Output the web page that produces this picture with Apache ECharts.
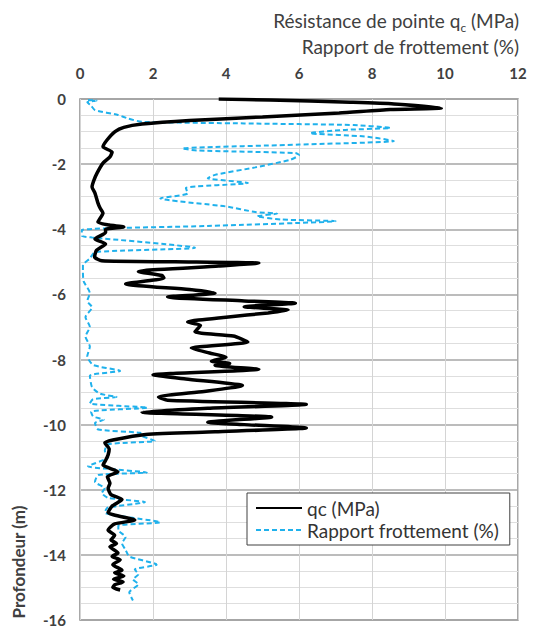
<!DOCTYPE html>
<html>
<head>
<meta charset="utf-8">
<script src="https://cdn.jsdelivr.net/npm/echarts@6/dist/echarts.min.js"></script>
<style>
  html, body { margin: 0; padding: 0; background: #fff; }
  #chart { width: 537px; height: 628px; }
</style>
</head>
<body>
<div id="chart"></div>
<script>
// profondeur (m) / qc (MPa)
const qcDepth = [0, -0.03, -0.1, -0.15, -0.28, -0.32, -0.43, -0.55, -0.66, -0.77, -0.87, -1.0, -1.26, -1.47, -1.63, -1.78, -1.97, -2.27, -2.5, -2.7, -2.89, -3.19, -3.35, -3.5, -3.78, -3.87, -3.93, -4.0, -4.1, -4.3, -4.45, -4.65, -4.85, -4.97, -5.0, -5.04, -5.13, -5.3, -5.42, -5.5, -5.68, -5.85, -5.96, -6.08, -6.2, -6.27, -6.38, -6.48, -6.57, -6.7, -6.85, -6.95, -7.15, -7.28, -7.46, -7.65, -7.8, -7.93, -8.05, -8.12, -8.18, -8.3, -8.47, -8.6, -8.8, -8.98, -9.15, -9.25, -9.38, -9.5, -9.62, -9.77, -9.93, -10.0, -10.1, -10.22, -10.3, -10.47, -10.56, -10.75, -10.93, -11.1, -11.24, -11.45, -11.6, -11.8, -11.95, -12.15, -12.3, -12.5, -12.7, -12.93, -13.05, -13.24, -13.4, -13.54, -13.65, -13.75, -13.94, -14.05, -14.15, -14.3, -14.47, -14.55, -14.65, -14.75, -14.83, -14.92, -15.0, -15.08];
const qcValue = [3.8, 5.2, 7.4, 8.6, 9.9, 8.5, 7.1, 5.0, 3.0, 1.7, 1.2, 0.96, 0.74, 0.63, 0.88, 0.82, 0.63, 0.47, 0.38, 0.33, 0.41, 0.49, 0.55, 0.63, 0.49, 0.8, 1.2, 0.7, 0.7, 0.41, 0.7, 0.45, 0.4, 0.6, 2.6, 4.9, 3.8, 1.6, 2.25, 2.3, 1.25, 3.0, 3.7, 2.4, 4.5, 5.9, 4.5, 5.7, 5.15, 4.0, 2.95, 3.3, 3.15, 4.2, 4.6, 3.05, 3.55, 4.0, 3.6, 4.1, 3.7, 4.9, 2.0, 2.9, 4.45, 3.4, 2.15, 2.4, 6.2, 3.5, 1.7, 5.25, 3.5, 4.5, 6.2, 3.7, 1.8, 0.9, 0.68, 0.8, 0.77, 0.7, 0.63, 1.04, 0.75, 0.82, 0.77, 0.85, 1.15, 0.88, 0.77, 1.5, 0.95, 0.77, 0.95, 0.85, 1.0, 0.82, 1.04, 0.88, 1.1, 0.9, 1.15, 0.95, 1.2, 0.92, 1.18, 0.95, 0.9, 1.1];

// profondeur (m) / rapport de frottement (%)
const rfDepth = [-0.03, -0.05, -0.1, -0.2, -0.34, -0.49, -0.6, -0.7, -0.75, -0.8, -0.89, -0.95, -1.05, -1.15, -1.29, -1.4, -1.52, -1.58, -1.66, -1.72, -1.87, -2.1, -2.33, -2.43, -2.58, -2.73, -2.9, -3.05, -3.3, -3.47, -3.52, -3.6, -3.7, -3.75, -3.9, -4.02, -4.2, -4.25, -4.57, -4.7, -4.9, -5.1, -5.3, -5.6, -5.96, -6.2, -6.4, -6.7, -7.0, -7.3, -7.6, -7.9, -8.17, -8.35, -8.5, -8.85, -9.05, -9.15, -9.22, -9.35, -9.48, -9.6, -9.75, -9.85, -9.95, -10.15, -10.25, -10.35, -10.5, -10.6, -10.8, -11.0, -11.28, -11.35, -11.47, -11.55, -11.76, -11.95, -12.1, -12.25, -12.38, -12.55, -12.7, -13.0, -13.1, -13.24, -13.45, -13.65, -13.85, -14.05, -14.3, -14.45, -14.6, -14.75, -14.9, -15.15, -15.4];
const rfValue = [0.22, 0.45, 0.2, 0.3, 0.41, 1.04, 1.32, 1.7, 4.5, 7.5, 8.5, 7.2, 6.3, 7.8, 8.6, 6.0, 2.8, 3.2, 5.9, 6.0, 5.75, 4.8, 3.7, 3.5, 4.6, 2.9, 2.95, 2.2, 4.0, 4.8, 5.4, 4.85, 5.5, 7.0, 3.5, 0.05, 0.05, 0.33, 3.15, 0.41, 0.27, 0.08, 0.08, 0.1, 0.27, 0.2, 0.33, 0.15, 0.27, 0.15, 0.27, 0.2, 0.36, 1.1, 0.27, 0.33, 0.55, 1.0, 0.36, 0.27, 1.85, 0.3, 0.36, 0.65, 0.41, 0.5, 1.65, 1.7, 2.05, 0.77, 0.68, 0.77, 0.22, 0.68, 1.83, 0.5, 0.41, 0.68, 0.6, 0.77, 1.78, 0.75, 0.68, 2.2, 1.05, 1.05, 1.25, 1.15, 1.25, 1.35, 2.1, 1.5, 1.6, 1.45, 1.6, 1.35, 1.45];

const font = "Lato, 'Noto Sans', sans-serif";

const chart = echarts.init(document.getElementById("chart"), null, { renderer: "svg" });

chart.setOption({
  animation: false,
  legend: {
    left: 247,
    top: 493,
    orient: "vertical",
    itemWidth: 46,
    itemHeight: 10,
    itemGap: 2,
    padding: [5, 11, 5, 8],
    borderColor: "#404040",
    borderWidth: 1,
    backgroundColor: "#fff",
    itemStyle: { opacity: 0 },
    textStyle: { fontFamily: font, fontSize: 19, lineHeight: 20, color: "#333" },
    data: ["qc (MPa)", "Rapport frottement (%)"]
  },
  grid: {
    left: 80,
    right: 19,
    top: 99,
    bottom: 8,
    show: true,
    borderColor: "#8c8c8c",
    borderWidth: 1.5,
    containLabel: false
  },
  xAxis: {
    type: "value",
    position: "top",
    min: 0,
    max: 12,
    interval: 2,
    axisLine: { show: false },
    axisTick: { show: false },
    axisLabel: { fontFamily: font, fontSize: 15, fontWeight: "bold", color: "#404040", margin: 19 },
    splitLine: { show: true, lineStyle: { color: "#d4d4d4", width: 1 } }
  },
  yAxis: {
    type: "value",
    min: -16,
    max: 0,
    interval: 2,
    axisLine: { show: false },
    axisTick: { show: false },
    axisLabel: { fontFamily: font, fontSize: 15, fontWeight: "bold", color: "#404040", margin: 14 },
    splitLine: { show: true, lineStyle: { color: "#a6a6a6", width: 1.5 } },
    minorTick: { show: false, splitNumber: 4 },
    minorSplitLine: { show: true, lineStyle: { color: "#dedede", width: 1 } }
  },
  graphic: [
    {
      type: "text",
      x: 519,
      y: 7,
      style: {
        text: "Résistance de pointe q{sub|c} (MPa)\nRapport de frottement (%)",
        fontFamily: font,
        fontSize: 19,
        lineHeight: 26,
        fill: "#404040",
        align: "right",
        textAlign: "right",
        rich: {
          sub: { fontFamily: font, fontSize: 12, fill: "#404040", verticalAlign: "bottom", lineHeight: 20 }
        }
      }
    },
    {
      type: "text",
      x: 18,
      y: 562,
      rotation: Math.PI / 2,
      style: {
        text: "Profondeur (m)",
        fontFamily: font,
        fontSize: 17,
        fontWeight: "bold",
        fill: "#404040",
        textAlign: "center",
        textVerticalAlign: "middle"
      }
    }
  ],
  series: [
    {
      name: "qc (MPa)",
      type: "line",
      symbol: "none",
      smooth: 0.2,
      lineStyle: { color: "#000", width: 3.5 },
      itemStyle: { color: "#000" },
      data: qcValue.map((v, i) => [v, qcDepth[i]]),
      z: 3
    },
    {
      name: "Rapport frottement (%)",
      type: "line",
      symbol: "none",
      smooth: 0.2,
      lineStyle: { color: "#1fb1ec", width: 2, type: [5, 3] },
      itemStyle: { color: "#1fb1ec" },
      data: rfValue.map((v, i) => [v, rfDepth[i]]),
      z: 2
    }
  ]
});
</script>
</body>
</html>
